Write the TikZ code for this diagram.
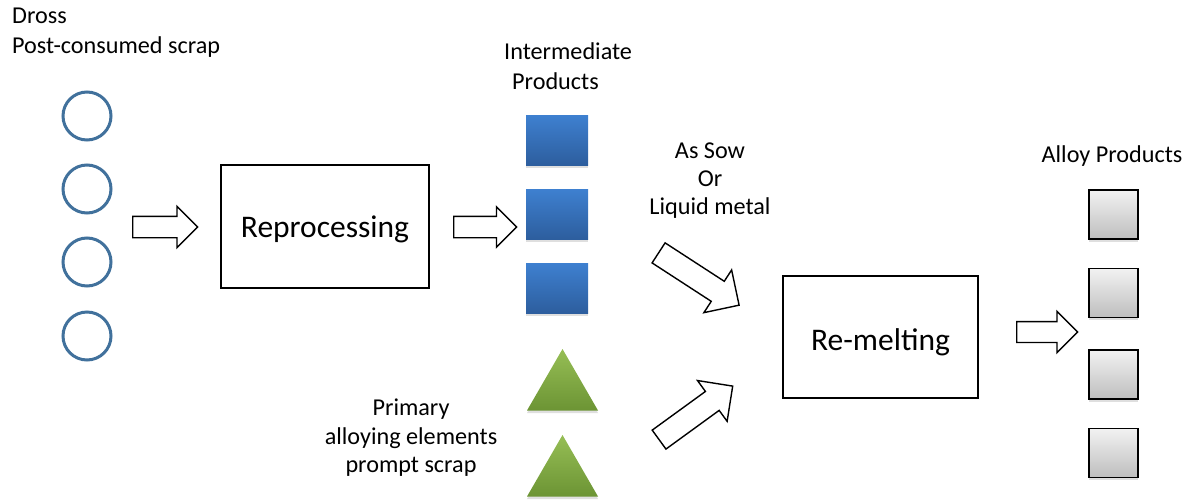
\documentclass[tikz,border=0pt]{standalone}
\usepackage{fontspec}
\setmainfont{Carlito}
\usetikzlibrary{shapes.geometric,shapes.arrows,shadows}

\definecolor{ringblue}{RGB}{65,113,156}
\definecolor{bluetop}{RGB}{62,128,208}
\definecolor{bluebot}{RGB}{45,94,158}
\definecolor{greentop}{RGB}{150,190,85}
\definecolor{greenbot}{RGB}{108,148,52}
\definecolor{greytop}{RGB}{242,242,242}
\definecolor{greybot}{RGB}{190,190,190}

\tikzset{
  lbl/.style={font=\fontsize{24.2}{29}\selectfont, inner sep=0pt, align=center},
  stage/.style={draw=black, line width=1.5pt, fill=white, inner sep=0pt,
    font=\fontsize{31.5}{36}\selectfont},
  ring/.style={circle, draw=ringblue, line width=3pt, minimum size=48pt, inner sep=0pt},
  softshadow/.style={drop shadow={shadow xshift=0pt, shadow yshift=-2.5pt, opacity=0.25}},
  bluebar/.style={rectangle, minimum width=62pt, minimum height=50pt, inner sep=0pt,
    top color=bluetop, bottom color=bluebot, draw=none, softshadow},
  greentri/.style={regular polygon, regular polygon sides=3, minimum size=82pt,
    inner sep=0pt, top color=greentop, bottom color=greenbot, draw=none, softshadow},
  greybox/.style={rectangle, minimum width=49pt, minimum height=49pt, inner sep=0pt,
    draw=black, line width=1.8pt, top color=greytop, bottom color=greybot, softshadow},
  % body thickness = 2 * inner ysep, head width = body + 2 * head extend
  fatarrow/.style={single arrow, draw=black, fill=white, line width=1.4pt,
    inner xsep=0pt, anchor=tail, single arrow tip angle=90},
}

\begin{document}
\begin{tikzpicture}[x=1pt, y=-1pt]
\useasboundingbox (0,0) rectangle (1188,501);

% input scrap
\node[lbl, anchor=base west] (dross) at (12,23) {Dross};
\node[lbl, anchor=base west] (post) at (12,53) {Post-consumed scrap};
\node[ring] (c1) at (87,116) {};
\node[ring] (c2) at (87,189) {};
\node[ring] (c3) at (87,262) {};
\node[ring] (c4) at (87,336) {};

\node[fatarrow, minimum height=65pt, inner ysep=10pt,
  single arrow head extend=10pt] (a1) at (132,227) {};

% reprocessing stage
\node[stage, minimum width=208pt, minimum height=123pt,
  text height=31pt, text depth=10pt] (rep) at (325,226.5) {Reprocessing};

\node[fatarrow, minimum height=63pt, inner ysep=10pt,
  single arrow head extend=9.5pt] (a2) at (453,227) {};

% intermediate products
\node[lbl, anchor=base west] (inter1) at (504,59) {Intermediate};
\node[lbl, anchor=base west] (inter2) at (512,89) {Products};
\node[bluebar] (b1) at (557,140) {};
\node[bluebar] (b2) at (557,214) {};
\node[bluebar] (b3) at (557,288) {};

% primary metal and prompt scrap
\node[lbl, anchor=base] (prim1) at (411,415) {Primary};
\node[lbl, anchor=base] (prim2) at (411,444) {alloying elements};
\node[lbl, anchor=base] (prim3) at (411,472) {prompt scrap};
\node[greentri] (t1) at (562.5,390) {};
\node[greentri] (t2) at (562.5,476) {};

% feed into re-melting
\node[lbl, anchor=base] (sow1) at (710,158) {As Sow};
\node[lbl, anchor=base] (sow2) at (710,186) {Or};
\node[lbl, anchor=base] (sow3) at (710,214) {Liquid metal};

\node[fatarrow, rotate=-33, minimum height=96pt, inner ysep=11.25pt,
  single arrow head extend=13.5pt] (a3) at (658,252.5) {};
\node[fatarrow, rotate=36, minimum height=91pt, inner ysep=11pt,
  single arrow head extend=13.5pt] (a4) at (658.5,440) {};

% re-melting stage
\node[stage, minimum width=195pt, minimum height=122pt,
  text height=34pt, text depth=8pt] (rem) at (880.5,337) {Re-melting};

\node[fatarrow, minimum height=61pt, inner ysep=9.75pt,
  single arrow head extend=10.25pt] (a5) at (1016,332) {};

% alloy products
\node[lbl, anchor=base] (alloy) at (1112,162) {Alloy Products};
\node[greybox] (g1) at (1113.5,214.5) {};
\node[greybox] (g2) at (1113.5,293) {};
\node[greybox] (g3) at (1113.5,374.5) {};
\node[greybox] (g4) at (1113.5,453) {};
\end{tikzpicture}
\end{document}
